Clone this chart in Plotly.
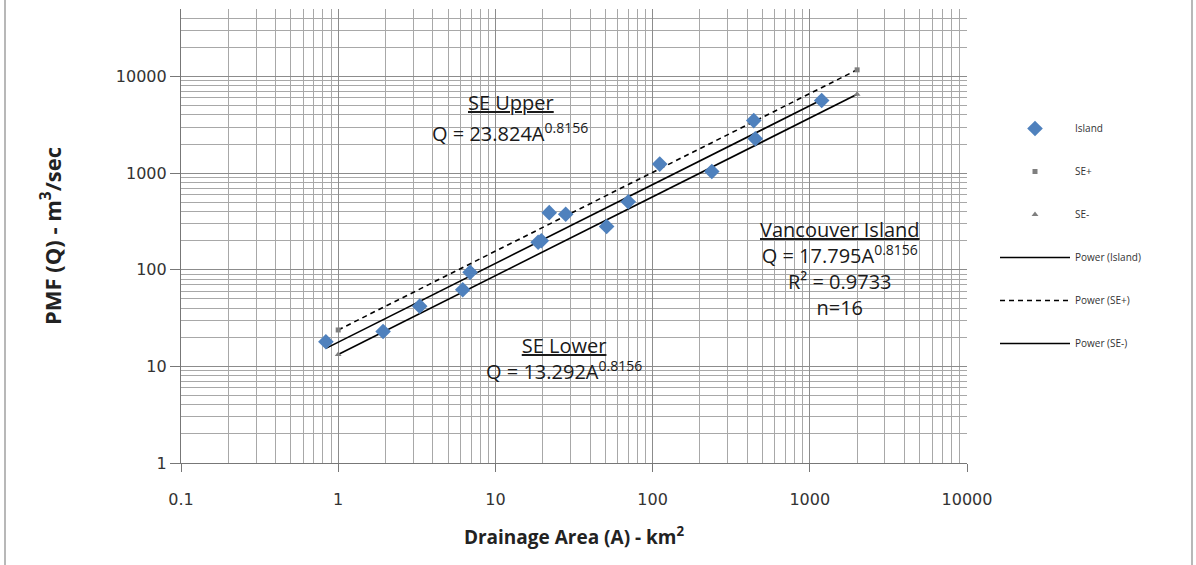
import numpy as np
import plotly.graph_objects as go

# Island catchments: drainage area (km2) and PMF (m3/s)
area_km2 = [0.835, 1.93, 3.3, 6.2, 6.9, 18.7, 19.6, 22, 28, 51, 70, 111, 238, 440, 450, 1190]
pmf_cms = [18, 23, 42, 62, 94, 193, 200, 390, 375, 280, 505, 1240, 1040, 3500, 2270, 5650]

# Power-law fits  Q = c * A^b
exponent = 0.8156
coef_island = 17.795
coef_upper = 23.824
coef_lower = 13.292
r_squared = 0.9733
se_area = [1, 2000]          # end points of the standard-error envelopes

x_ticks = [0.1, 1, 10, 100, 1000, 10000]
x_tick_text = ["0.1", "1", "10", "100", "1000", "10000"]
y_ticks = [1, 10, 100, 1000, 10000]
y_tick_text = ["1", "10", "100", "1000", "10000"]

W, H = 1196, 565
L, R, T, B = 181, 967, 9, 463


def px(x):
    return (x - L) / (R - L)


def py(y):
    return (B - y) / (B - T)


def power(c, a):
    return [c * v ** exponent for v in a]


island_fit_x = [min(area_km2), max(area_km2)]
fig = go.Figure()

# fitted lines first so the markers sit on top
fig.add_trace(go.Scatter(
    x=island_fit_x, y=power(coef_island, island_fit_x), mode="lines",
    name="Power (Island)", line=dict(color="black", width=1.6),
    legendgroup="d", legendrank=4))
fig.add_trace(go.Scatter(
    x=se_area, y=power(coef_upper, se_area), mode="lines",
    name="Power (SE+)", line=dict(color="black", width=1.6, dash="5px,4px"),
    legendgroup="e", legendrank=5))
fig.add_trace(go.Scatter(
    x=se_area, y=power(coef_lower, se_area), mode="lines",
    name="Power (SE-)", line=dict(color="black", width=1.6),
    legendgroup="f", legendrank=6))
fig.add_trace(go.Scatter(
    x=area_km2, y=pmf_cms, mode="markers", name="Island",
    marker=dict(symbol="diamond", size=12, color="#4F81BD"),
    legendgroup="a", legendrank=1))
fig.add_trace(go.Scatter(
    x=se_area, y=power(coef_upper, se_area), mode="markers", name="SE+",
    marker=dict(symbol="square", size=5, color="#7F7F7F"),
    legendgroup="b", legendrank=2))
fig.add_trace(go.Scatter(
    x=se_area, y=power(coef_lower, se_area), mode="markers", name="SE-",
    marker=dict(symbol="triangle-up", size=6, color="#7F7F7F"),
    legendgroup="c", legendrank=3))

tick_font = dict(family="DejaVu Sans", size=16, color="#333333")
major_grid = "#8C8C8C"
minor_grid = "#A8A8A8"

fig.update_xaxes(
    type="log", range=[-1, 4],
    tickvals=x_ticks, ticktext=x_tick_text, tickfont=tick_font,
    ticks="outside", ticklen=8, tickcolor="#777777", ticklabelstandoff=14,
    showline=True, linecolor="#777777", linewidth=1.2,
    showgrid=True, gridcolor=major_grid, gridwidth=1.2,
    minor=dict(dtick="D1", showgrid=True, gridcolor=minor_grid, gridwidth=1, ticks=""),
    title=dict(text="Drainage Area (A) - km<sup>2</sup>", standoff=22,
               font=dict(family="Open Sans", size=19, color="#222222", weight="bold")),
    zeroline=False,
)
fig.update_yaxes(
    type="log", range=[0, np.log10(50000)],
    tickvals=y_ticks, ticktext=y_tick_text, tickfont=tick_font,
    ticks="outside", ticklen=10, tickcolor="#777777",
    showline=True, linecolor="#777777", linewidth=1.2,
    showgrid=True, gridcolor=major_grid, gridwidth=1.2,
    minor=dict(dtick="D1", showgrid=True, gridcolor=minor_grid, gridwidth=1, ticks=""),
    title=dict(text="PMF (Q) - m<sup>3</sup>/sec", standoff=48,
               font=dict(family="Open Sans", size=22, color="#222222", weight="bold")),
    zeroline=False,
)

ann_font = dict(family="Open Sans", size=20, color="#1a1a1a")
sup = f"<sup>{exponent}</sup>"
notes = [
    ("<u>SE Upper</u>", 511, 102),
    (f"Q = {coef_upper}A{sup}", 510, 132),
    (f"<u>Vancouver Island</u><br>Q = {coef_island}A{sup}<br>"
     f"R² = {r_squared}<br>n={len(area_km2)}", 840, 268),
    (f"<u>SE Lower</u><br>Q = {coef_lower}A{sup}", 564, 358),
]
annotations = [
    dict(text=t, x=px(x), y=py(y), xref="paper", yref="paper", align="center",
         showarrow=False, xanchor="center", yanchor="middle", font=ann_font)
    for t, x, y in notes
]

# outer chart frame edges
shapes = [
    dict(type="line", xref="paper", yref="paper", x0=px(5), x1=px(5), y0=py(-5), y1=py(570),
         line=dict(color="#A0A0A0", width=1.5)),
    dict(type="line", xref="paper", yref="paper", x0=px(1192), x1=px(1192), y0=py(-5), y1=py(570),
         line=dict(color="#A0A0A0", width=1.5)),
]

fig.update_layout(
    width=W, height=H,
    margin=dict(l=L, r=W - R, t=T, b=H - B, pad=0),
    paper_bgcolor="white", plot_bgcolor="white",
    annotations=annotations, shapes=shapes,
    showlegend=True,
    legend=dict(x=px(995), y=py(114), xanchor="left", yanchor="top",
                font=dict(family="Open Sans", size=10, color="#333333"),
                tracegroupgap=24, itemwidth=70, bgcolor="rgba(0,0,0,0)",
                traceorder="grouped"),
)

fig.write_html("out.html")
